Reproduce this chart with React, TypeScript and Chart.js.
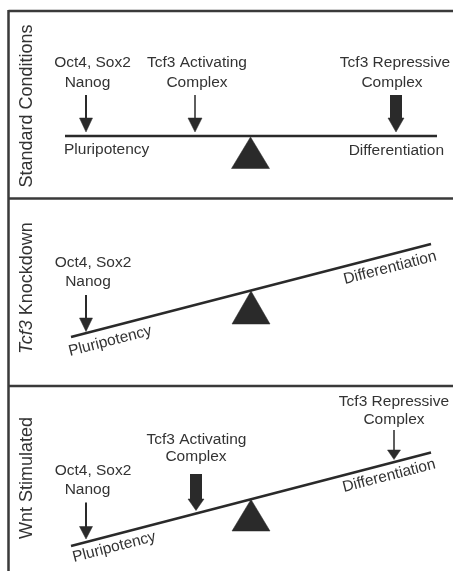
import React, { useEffect, useRef } from "react";
import { Chart, registerables } from "chart.js";

Chart.register(...registerables);

const W = 453;
const H = 571;
const INK = "#333333";
const FONT = "'Liberation Sans', Arial, sans-serif";

// frame segments: [x1, y1, x2, y2]
const frameLines: number[][] = [
  [8.5, 11, 453, 11],
  [8.5, 10, 8.5, 571],
  [8.5, 198.5, 453, 198.5],
  [8.5, 386, 453, 386],
];

// seesaw beams: [x1, y1, x2, y2]
const beams: number[][] = [
  [65, 136, 437, 136],
  [71, 337, 431, 244],
  [71, 546, 431, 452.5],
];

// fulcrums: [apexX, apexY, height, halfBase]
const fulcrums: number[][] = [
  [250.5, 137, 31.5, 19],
  [251, 291, 33, 19],
  [251, 499.5, 31.5, 19],
];

// arrows: [x, yTop, yHeadStart, yTip, shaftWidth, headHalfWidth]
const arrows: number[][] = [
  [86, 95, 118, 132, 2, 6.5],
  [195, 95, 118, 132, 1.5, 7],
  [396, 95, 118, 132, 12, 8],
  [86, 295, 318, 331.5, 2, 6.5],
  [86, 502.5, 526.5, 539, 2, 6.5],
  [196, 474, 499, 510.5, 12, 8],
  [394, 430, 450, 459.5, 1.5, 6.5],
];

// horizontal labels: [text, x, baselineY, align]
const labels: [string, number, number, CanvasTextAlign][] = [
  ["Oct4, Sox2", 92.5, 67, "center"],
  ["Nanog", 87.5, 87, "center"],
  ["Tcf3 Activating", 197, 67, "center"],
  ["Complex", 197, 87, "center"],
  ["Tcf3 Repressive", 395, 67, "center"],
  ["Complex", 392, 87, "center"],
  ["Pluripotency", 64, 154, "left"],
  ["Differentiation", 444, 154.5, "right"],
  ["Oct4, Sox2", 93, 266.5, "center"],
  ["Nanog", 88, 285.5, "center"],
  ["Oct4, Sox2", 93, 475, "center"],
  ["Nanog", 87.5, 494, "center"],
  ["Tcf3 Activating", 196.5, 444, "center"],
  ["Complex", 196, 460.5, "center"],
  ["Tcf3 Repressive", 394, 405.5, "center"],
  ["Complex", 394, 424, "center"],
];

// slanted labels along beams: [text, x, baselineY, angleDeg]
const slantLabels: [string, number, number, number][] = [
  ["Pluripotency", 70, 356, -14.5],
  ["Differentiation", 345, 284, -14.5],
  ["Pluripotency", 74, 562, -14.5],
  ["Differentiation", 344, 492, -14.5],
];

// panel titles (rotated): [italicPart, normalPart, baselineX, centerY]
const panelTitles: [string, string, number, number][] = [
  ["", "Standard Conditions", 31.5, 106],
  ["Tcf3", " Knockdown", 31.5, 288],
  ["", "Wnt Stimulated", 31.5, 478],
];

function seg(p: number[], width: number, color: string) {
  return {
    data: [
      { x: p[0], y: p[1] },
      { x: p[2], y: p[3] },
    ],
    showLine: true,
    borderColor: color,
    borderWidth: width,
    borderCapStyle: "butt" as const,
    pointRadius: 0,
    fill: false,
  };
}

function poly(pts: { x: number; y: number }[], color: string) {
  return {
    data: [...pts, pts[0]],
    showLine: true,
    borderColor: color,
    borderWidth: 0.5,
    backgroundColor: color,
    pointRadius: 0,
    fill: "shape" as const,
  };
}

const textPlugin = {
  id: "diagramText",
  afterDatasetsDraw(chart: any) {
    const ctx: CanvasRenderingContext2D = chart.ctx;
    const xs = chart.scales.x;
    const ys = chart.scales.y;
    ctx.save();
    ctx.fillStyle = INK;
    ctx.textBaseline = "alphabetic";
    ctx.font = `15.5px ${FONT}`;
    for (const [t, x, y, align] of labels) {
      ctx.textAlign = align;
      ctx.fillText(t, xs.getPixelForValue(x), ys.getPixelForValue(y));
    }
    for (const [t, x, y, ang] of slantLabels) {
      ctx.save();
      ctx.translate(xs.getPixelForValue(x), ys.getPixelForValue(y));
      ctx.rotate((ang * Math.PI) / 180);
      ctx.textAlign = "left";
      ctx.fillText(t, 0, 0);
      ctx.restore();
    }
    for (const [it, norm, bx, cy] of panelTitles) {
      ctx.save();
      ctx.translate(xs.getPixelForValue(bx), ys.getPixelForValue(cy));
      ctx.rotate(-Math.PI / 2);
      ctx.textAlign = "left";
      const fItal = `italic 18px ${FONT}`;
      const fNorm = `18px ${FONT}`;
      ctx.font = fItal;
      const wi = it ? ctx.measureText(it).width : 0;
      ctx.font = fNorm;
      const wn = ctx.measureText(norm).width;
      const start = -(wi + wn) / 2;
      if (it) {
        ctx.font = fItal;
        ctx.fillText(it, start, 0);
      }
      ctx.font = fNorm;
      ctx.fillText(norm, start + wi, 0);
      ctx.restore();
    }
    ctx.restore();
  },
};

export default function App() {
  const ref = useRef<HTMLCanvasElement | null>(null);
  useEffect(() => {
    if (!ref.current) return;
    const datasets: any[] = [];
    frameLines.forEach((p) => datasets.push(seg(p, 2.5, "#3a3a3a")));
    beams.forEach((p) => datasets.push(seg(p, 2.5, "#2a2a2a")));
    fulcrums.forEach(([ax, ay, h, hb]) =>
      datasets.push(
        poly(
          [
            { x: ax, y: ay },
            { x: ax + hb, y: ay + h },
            { x: ax - hb, y: ay + h },
          ],
          "#2a2a2a"
        )
      )
    );
    arrows.forEach(([x, yt, yh, ytip, sw, hh]) => {
      datasets.push(seg([x, yt, x, yh + 1], sw, "#2a2a2a"));
      datasets.push(
        poly(
          [
            { x: x - hh, y: yh },
            { x: x + hh, y: yh },
            { x: x, y: ytip },
          ],
          "#2a2a2a"
        )
      );
    });
    const chart = new Chart(ref.current, {
      type: "scatter",
      data: { datasets },
      options: {
        animation: false,
        responsive: false,
        devicePixelRatio: 1,
        layout: { padding: 0 },
        events: [],
        scales: {
          x: { type: "linear", min: 0, max: W, display: false },
          y: { type: "linear", min: 0, max: H, reverse: true, display: false },
        },
        plugins: {
          legend: { display: false },
          tooltip: { enabled: false },
        },
      },
      plugins: [textPlugin],
    });
    return () => chart.destroy();
  }, []);
  return (
    <div style={{ position: "absolute", left: 0, top: 0, width: W, height: H, background: "#fff" }}>
      <canvas ref={ref} width={W} height={H} style={{ display: "block", width: W, height: H }} />
    </div>
  );
}
